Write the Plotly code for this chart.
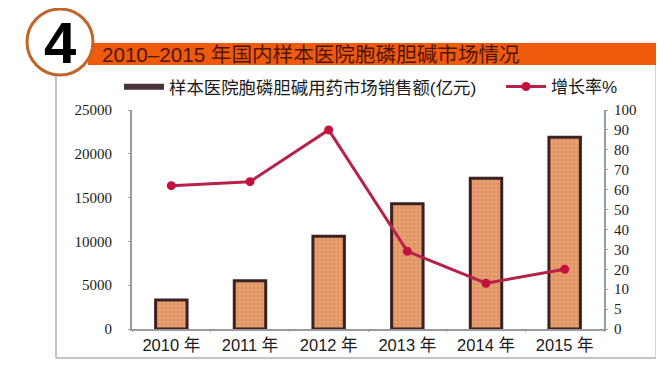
import numpy as np
import plotly.graph_objects as go

years = ["2010 年", "2011 年", "2012 年", "2013 年", "2014 年", "2015 年"]
sales = [3300, 5500, 10600, 14300, 17200, 21900]
growth = [62, 64, 90, 29, 13, 20]
left_ticks = [0, 5000, 10000, 15000, 20000, 25000]
right_labels = [0, 5, 10, 20, 30, 40, 50, 60, 70, 80, 90, 100]
title_text = "2010–2015 年国内样本医院胞磷胆碱市场情况"
bar_name = "样本医院胞磷胆碱用药市场销售额(亿元)"
line_name = "增长率%"

OFF = 8  # the page's default body margin
W, H = 664 - OFF, 367 - OFF
L, R, T, B = 132, 604, 110, 329
px = lambda v: (v - L) / (R - L)
py = lambda v: (B - v) / (B - T)
SANS = "Liberation Sans, Noto Sans CJK SC, sans-serif"
SERIF = "Liberation Serif, Noto Serif CJK SC, serif"

# the right axis has uneven labels on evenly spaced ticks
right_pos = list(range(len(right_labels)))
growth_pos = np.interp(growth, right_labels, right_pos)

fig = go.Figure()
fig.add_bar(
    x=years, y=sales, width=0.40, showlegend=False,
    marker=dict(color="#E59C6C", line=dict(color="#3A2222", width=3),
                pattern=dict(shape=".", fgcolor="#D27C4C", bgcolor="#E8A274", size=4, solidity=0.4)),
)
fig.add_scatter(x=[None], y=[None], mode="lines", name=bar_name, legend="legend",
                line=dict(color="#4A3038", width=6))
fig.add_scatter(
    x=years, y=growth_pos, yaxis="y2", mode="lines+markers", name=line_name, legend="legend2",
    line=dict(color="#B5234A", width=3),
    marker=dict(color="#C4103A", size=9),
)

shapes = [
    dict(type="line", x0=px(56), x1=px(56), y0=py(70), y1=py(358), line=dict(color="#C4C4C4", width=2)),
    dict(type="line", x0=px(56), x1=px(656), y0=py(358), y1=py(358), line=dict(color="#C4C4C4", width=2)),
    dict(type="line", x0=px(656), x1=px(656), y0=py(65), y1=py(358), line=dict(color="#C4C4C4", width=1.5)),
    dict(type="rect", x0=px(88), x1=px(656), y0=py(43), y1=py(65), fillcolor="#F05A0C", line=dict(width=0)),
    dict(type="circle", x0=px(27), x1=px(93), y0=py(9), y1=py(75), fillcolor="white",
         line=dict(color="#C0652A", width=3)),
]
for s in shapes:
    s.update(xref="paper", yref="paper", layer="below")

annotations = [
    dict(text="4", x=px(60), y=py(42), font=dict(family=SANS, size=58, color="black", weight="bold")),
    dict(text=title_text, x=px(100), y=py(54), xanchor="left",
         font=dict(family=SANS, size=20.6, color="#4F1510")),
]
for a in annotations:
    a.update(xref="paper", yref="paper", showarrow=False, yanchor="middle",
             xanchor=a.get("xanchor", "center"))

legend_common = dict(orientation="h", yanchor="middle", itemwidth=40, bgcolor="rgba(0,0,0,0)")

fig.update_layout(
    width=W, height=H, paper_bgcolor="white", plot_bgcolor="rgba(0,0,0,0)",
    margin=dict(l=L - OFF, r=664 - R, t=T - OFF, b=367 - B, pad=0),
    shapes=shapes, annotations=annotations, hovermode=False,
    font=dict(family=SANS, color="#1A1A1A"),
    legend=dict(x=px(119), y=py(87), xanchor="left",
                font=dict(size=17.4, family=SANS, color="#1A1A1A"), **legend_common),
    legend2=dict(x=px(501), y=py(87), xanchor="left",
                 font=dict(size=17, family=SANS, color="#1A1A1A"), **legend_common),
    xaxis=dict(type="category", showgrid=False, showline=True, linecolor="#9A9A9A", linewidth=2,
               ticks="outside", tickson="boundaries", ticklen=1, tickcolor="#9A9A9A",
               tickfont=dict(family=SANS, size=16.5, color="#1A1A1A"), range=[-0.5, 5.5]),
    yaxis=dict(range=[0, 25000], tickvals=left_ticks, tickformat="d", showgrid=False, zeroline=False,
               showline=True, linecolor="#9A9A9A", linewidth=2, ticks="outside", ticklen=2,
               ticklabelstandoff=13,
               tickcolor="#9A9A9A", tickfont=dict(family=SERIF, size=15, color="#1A1A1A")),
    yaxis2=dict(overlaying="y", side="right", range=[0, len(right_labels) - 1],
                tickvals=right_pos, ticktext=[str(v) for v in right_labels],
                showgrid=False, zeroline=False, showline=True, linecolor="#8FA0A0", linewidth=2,
                ticks="outside", ticklen=2, tickcolor="#8FA0A0", ticklabelstandoff=3,
                tickfont=dict(family=SERIF, size=15, color="#1A1A1A")),
)
fig.write_html("out.html")
